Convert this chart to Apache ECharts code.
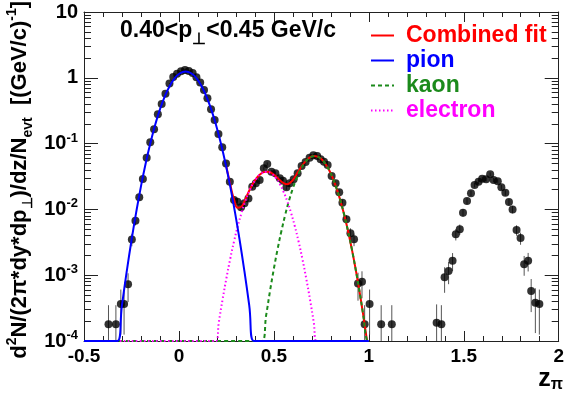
<!DOCTYPE html>
<html>
<head>
<meta charset="utf-8">
<script src="https://cdn.jsdelivr.net/npm/echarts@6/dist/echarts.min.js"></script>
<style>
  html, body { margin: 0; padding: 0; background: #fff; }
  #main { width: 567px; height: 396px; }
</style>
</head>
<body>
<div id="main"></div>
<script>
// ---- measured points (z_pi , yield , error) ----
var zPts = [
  -0.371, -0.332, -0.306, -0.289, -0.268, -0.248, -0.229, -0.209, -0.190, -0.170,
  -0.151, -0.131, -0.111, -0.091, -0.071, -0.050, -0.030, -0.010, 0.011, 0.032,
  0.052, 0.072, 0.092, 0.112, 0.132, 0.150, 0.169, 0.188, 0.208, 0.228,
  0.248, 0.268, 0.290,
  0.308, 0.327, 0.345, 0.366, 0.386, 0.405, 0.425, 0.447, 0.465, 0.487,
  0.508, 0.531, 0.548, 0.566, 0.583, 0.604, 0.625, 0.646, 0.667, 0.688,
  0.708, 0.728, 0.746, 0.764, 0.783, 0.804, 0.825, 0.844, 0.861, 0.882,
  0.903, 0.922, 0.943, 0.964, 0.978, 1.004, 1.065, 1.121,
  1.357, 1.382, 1.399, 1.420, 1.441, 1.458, 1.479, 1.496, 1.517, 1.538,
  1.557, 1.578, 1.597, 1.618, 1.639, 1.657, 1.679, 1.698, 1.719, 1.738,
  1.757, 1.778, 1.799, 1.818, 1.839, 1.855, 1.877, 1.898
];
var yPts = [
  1.8e-4, 1.8e-4, 3.65e-4, 3.65e-4, 7.3e-4, 3.5e-3, 6.7e-3, 0.0153, 0.029, 0.061,
  0.105, 0.165, 0.279, 0.40, 0.573, 0.82, 1.03, 1.15, 1.26, 1.31,
  1.27, 1.18, 1.02, 0.845, 0.653, 0.488, 0.332, 0.229, 0.140, 0.088,
  0.050, 0.0264, 0.0139,
  0.0131, 0.0108, 0.0124, 0.0147, 0.0221, 0.0249, 0.028, 0.0421, 0.049, 0.0374,
  0.0354, 0.0297, 0.0273, 0.0217, 0.0249, 0.0287, 0.0354, 0.0457, 0.0525, 0.061,
  0.0667, 0.065, 0.0577, 0.0531, 0.0473, 0.0322, 0.0249, 0.0182, 0.01265, 0.00708,
  0.00434, 0.00351, 7.5e-4, 7.96e-4, 1.8e-4, 3.65e-4, 1.8e-4, 1.8e-4,
  1.9e-4, 1.8e-4, 9.3e-4, 1.16e-3, 1.66e-3, 4.19e-3, 4.99e-3, 8.9e-3, 0.0134, 0.0176,
  0.0235, 0.0264, 0.0293, 0.0287, 0.0341, 0.028, 0.0267, 0.0217, 0.0179, 0.0129,
  0.010, 4.86e-3, 3.67e-3, 1.47e-3, 1.66e-3, 5.75e-4, 3.82e-4, 3.65e-4
];
var yErr = [
  1.7e-4, 1.7e-4, 2.4e-4, 2.4e-4, 3.4e-4, 7.5e-4, 1.0e-3, 1.6e-3, 2.2e-3, 3.1e-3,
  4.1e-3, 5.1e-3, 6.7e-3, 8.0e-3, 9.6e-3, 0.011, 0.013, 0.014, 0.014, 0.014,
  0.014, 0.014, 0.013, 0.012, 0.010, 0.009, 0.0073, 0.006, 0.0047, 0.0037,
  0.0028, 0.002, 0.0015,
  1.45e-3, 1.3e-3, 1.4e-3, 1.5e-3, 1.9e-3, 2.0e-3, 2.1e-3, 2.6e-3, 2.8e-3, 2.4e-3,
  2.4e-3, 2.2e-3, 2.1e-3, 1.9e-3, 2.0e-3, 2.1e-3, 2.4e-3, 2.7e-3, 2.9e-3, 3.1e-3,
  3.3e-3, 3.2e-3, 3.0e-3, 2.9e-3, 2.8e-3, 2.3e-3, 2.0e-3, 1.7e-3, 1.4e-3, 1.1e-3,
  8.3e-4, 7.5e-4, 3.4e-4, 3.5e-4, 1.7e-4, 2.4e-4, 1.7e-4, 1.7e-4,
  1.7e-4, 1.7e-4, 3.9e-4, 4.3e-4, 5.1e-4, 8.2e-4, 8.9e-4, 1.2e-3, 1.46e-3, 1.7e-3,
  1.9e-3, 2.1e-3, 2.2e-3, 2.1e-3, 2.3e-3, 2.1e-3, 2.1e-3, 1.9e-3, 1.7e-3, 1.45e-3,
  1.3e-3, 8.8e-4, 7.7e-4, 4.9e-4, 5.2e-4, 3.0e-4, 2.5e-4, 2.4e-4
];

// ---- fit curves (1e-4 = drawn on the frame bottom) ----
var pionZ = [-0.5, -0.325, -0.30, -0.275, -0.25, -0.225, -0.20, -0.175, -0.15, -0.125,
  -0.10, -0.075, -0.05, -0.025, 0.0, 0.035, 0.07, 0.095, 0.12, 0.145,
  0.17, 0.195, 0.22, 0.245, 0.27, 0.295, 0.32, 0.345, 0.37, 0.395, 1.0];
var pionY = [1e-4, 1e-4, 3.5e-4, 1.14e-3, 3.37e-3, 9.08e-3, 0.0224, 0.0503, 0.103, 0.194,
  0.331, 0.518, 0.738, 0.962, 1.143, 1.25, 1.143, 0.962, 0.738, 0.518,
  0.331, 0.194, 0.103, 0.0503, 0.0224, 9.08e-3, 3.37e-3, 1.14e-3, 3.5e-4, 1e-4, 1e-4];

var kaonZ = [-0.5, 0.435, 0.46, 0.48, 0.50, 0.52, 0.54, 0.56, 0.58, 0.60,
  0.62, 0.64, 0.66, 0.68, 0.70, 0.715, 0.73, 0.75, 0.77, 0.79,
  0.81, 0.83, 0.85, 0.87, 0.89, 0.91, 0.93, 0.95, 0.97, 0.99, 1.0];
var kaonY = [1e-4, 1e-4, 2.54e-4, 5.85e-4, 1.26e-3, 2.53e-3, 4.75e-3, 8.34e-3, 0.01368, 0.0209,
  0.0299, 0.040, 0.0499, 0.0582, 0.0634, 0.0646, 0.0634, 0.0582, 0.0499, 0.040,
  0.0299, 0.0209, 0.01368, 8.34e-3, 4.75e-3, 2.53e-3, 1.26e-3, 5.85e-4, 2.54e-4, 1.03e-4, 1e-4];

var elecZ = [-0.5, 0.195, 0.21, 0.23, 0.25, 0.27, 0.29, 0.31, 0.33, 0.35,
  0.37, 0.39, 0.41, 0.43, 0.46, 0.49, 0.51, 0.53, 0.55, 0.57,
  0.59, 0.61, 0.63, 0.65, 0.67, 0.69, 0.71, 0.725, 1.0];
var elecY = [1e-4, 1e-4, 1.92e-4, 4.3e-4, 9.0e-4, 1.77e-3, 3.25e-3, 5.58e-3, 8.93e-3, 0.0134,
  0.0188, 0.0246, 0.0301, 0.0344, 0.0372, 0.0344, 0.0301, 0.0246, 0.0188, 0.0134,
  8.93e-3, 5.58e-3, 3.25e-3, 1.77e-3, 9.0e-4, 4.3e-4, 1.92e-4, 1e-4, 1e-4];

var fitZ = [0.25, 0.27, 0.29, 0.31, 0.33, 0.35, 0.37, 0.39, 0.41, 0.43,
  0.45, 0.47, 0.49, 0.51, 0.53, 0.55, 0.57, 0.59, 0.61, 0.63,
  0.65, 0.67, 0.69, 0.71, 0.73, 0.75, 0.77, 0.79, 0.81, 0.83,
  0.85, 0.87, 0.89, 0.91, 0.93, 0.95, 0.97, 0.99];
var fitY = [0.044, 0.0242, 0.0142, 0.0106, 0.0111, 0.0143, 0.0192, 0.0247, 0.0301, 0.0345,
  0.0370, 0.0372, 0.0353, 0.0319, 0.0281, 0.0252, 0.0242, 0.0260, 0.0308, 0.0382,
  0.0469, 0.0552, 0.0616, 0.0647, 0.0634, 0.0582, 0.0499, 0.040, 0.0299, 0.0209,
  0.01368, 8.34e-3, 4.75e-3, 2.53e-3, 1.26e-3, 5.85e-4, 2.54e-4, 1.03e-4];

var yMajor = [1e-4, 1e-3, 1e-2, 1e-1, 1, 10];

var FONT = '"Liberation Sans", Arial, sans-serif';
var RED = '#ff0000', BLUE = '#0000ff', GREEN = '#1b8a1b', PINK = '#ff00ff';

function pairs(xs, ys) {
  return xs.map(function (x, i) { return [x, ys[i]]; });
}

// minor log ticks 2..9 per decade (axis decoration only)
var yMinor = [];
for (var d = 0; d < yMajor.length - 1; d++) {
  for (var m = 2; m <= 9; m++) yMinor.push(+(m * yMajor[d]).toPrecision(3));
}

var chart = echarts.init(document.getElementById('main'));

function xAx(pos, showLabel) {
  return {
    type: 'value', position: pos, min: -0.5, max: 2, interval: 0.5,
    axisLine: { show: true, onZero: false, lineStyle: { color: '#222', width: 1 } },
    axisTick: { show: true, inside: true, length: 10, lineStyle: { color: '#222' } },
    minorTick: { show: true, splitNumber: 5, length: 5, lineStyle: { color: '#222' } },
    splitLine: { show: false },
    axisLabel: {
      show: showLabel, margin: 6, color: '#000', fontFamily: FONT,
      fontWeight: 'bold', fontSize: 19
    }
  };
}

function yAx(pos, minor, showLabel) {
  return {
    type: 'log', logBase: 10, position: pos, min: 1e-4, max: 10,
    axisLine: { show: !minor, onZero: false, lineStyle: { color: '#222', width: 1 } },
    axisTick: {
      show: true, inside: true, length: minor ? 7 : 14,
      customValues: minor ? yMinor : yMajor, lineStyle: { color: '#222' }
    },
    splitLine: { show: false },
    axisLabel: {
      show: showLabel, customValues: yMajor, margin: 6,
      formatter: function (v) {
        var e = Math.round(Math.log10(v));
        if (e === 0) return '{b|1}';
        if (e === 1) return '{b|10}';
        return '{b|10}{e|' + e + '}';
      },
      rich: {
        b: { fontFamily: FONT, fontWeight: 'bold', fontSize: 20, color: '#000', lineHeight: 24 },
        e: { fontFamily: FONT, fontWeight: 'bold', fontSize: 13, color: '#000', lineHeight: 12, verticalAlign: 'top' }
      }
    }
  };
}

var option = {
  animation: false,
  backgroundColor: '#fff',
  grid: { left: 84, right: 4, top: 12, bottom: 55 },
  xAxis: [xAx('bottom', true), xAx('top', false)],
  yAxis: [yAx('left', false, true), yAx('left', true, false), yAx('right', false, false), yAx('right', true, false)],
  legend: {
    orient: 'vertical', left: 370, top: 24, padding: 0,
    itemWidth: 23, itemHeight: 14, itemGap: 2,
    selectedMode: false,
    itemStyle: { opacity: 0 },
    textStyle: { fontFamily: FONT, fontWeight: 'bold', fontSize: 23, lineHeight: 23, padding: [0, 0, 0, 7] },
    data: [
      { name: 'Combined fit', textStyle: { color: RED } },
      { name: 'pion', textStyle: { color: BLUE } },
      { name: 'kaon', textStyle: { color: GREEN } },
      { name: 'electron', textStyle: { color: PINK } }
    ]
  },
  graphic: [
    {
      type: 'text', left: 120, top: 19,
      style: {
        text: '{m|0.40<p}{s|\u22a5}{m|<0.45 GeV/c}',
        rich: {
          m: { fontFamily: FONT, fontWeight: 'bold', fontSize: 23, fill: '#000', lineHeight: 34 },
          s: { fontFamily: FONT, fontWeight: 'bold', fontSize: 16, fill: '#000', lineHeight: 10, verticalAlign: 'bottom' }
        }
      }
    },
    {
      type: 'text', x: 20, y: 1, rotation: Math.PI / 2,
      style: {
        text: '{m|d}{p|2}{m|N/(2\u03c0*dy*dp}{s|\u22a5}{m|)/dz/N}{s|evt}{m|  [(GeV/c)}{p|-1}{m|]}',
        align: 'right', verticalAlign: 'middle',
        rich: {
          m: { fontFamily: FONT, fontWeight: 'bold', fontSize: 22, fill: '#000', lineHeight: 30 },
          p: { fontFamily: FONT, fontWeight: 'bold', fontSize: 14, fill: '#000', lineHeight: 14, verticalAlign: 'top' },
          s: { fontFamily: FONT, fontWeight: 'bold', fontSize: 14, fill: '#000', lineHeight: 12, verticalAlign: 'bottom' }
        }
      }
    },
    {
      type: 'text', right: 4, top: 367,
      style: {
        text: '{m|z}{s|\u03c0}',
        rich: {
          m: { fontFamily: FONT, fontWeight: 'bold', fontSize: 25, fill: '#000', lineHeight: 26 },
          s: { fontFamily: FONT, fontWeight: 'bold', fontSize: 16, fill: '#000', lineHeight: 12, verticalAlign: 'bottom' }
        }
      }
    }
  ],
  series: [
    {
      type: 'custom', name: 'errors', z: 2,
      data: zPts.map(function (z, i) { return [z, yPts[i], yErr[i]]; }),
      encode: { x: 0, y: 1 },
      renderItem: function (params, api) {
        var z = api.value(0), y = api.value(1), e = api.value(2);
        var p1 = api.coord([z, Math.max(y - e, 1e-4)]);
        var p2 = api.coord([z, y + e]);
        return {
          type: 'line',
          shape: { x1: p1[0], y1: p1[1], x2: p2[0], y2: p2[1] },
          style: { stroke: '#555', lineWidth: 1 }
        };
      }
    },
    {
      type: 'scatter', name: 'data', z: 3,
      data: pairs(zPts, yPts), symbol: 'circle', symbolSize: 8,
      itemStyle: { color: '#000' }
    },
    {
      type: 'line', name: 'Combined fit', z: 4, data: pairs(fitZ, fitY),
      smooth: true, symbol: 'none', lineStyle: { color: RED, width: 2 }, itemStyle: { color: RED }
    },
    {
      type: 'line', name: 'kaon', z: 5, data: pairs(kaonZ, kaonY),
      smooth: true, symbol: 'none', lineStyle: { color: GREEN, width: 2, type: [4, 3] }, itemStyle: { color: GREEN }
    },
    {
      type: 'line', name: 'electron', z: 6, data: pairs(elecZ, elecY),
      smooth: true, symbol: 'none', lineStyle: { color: PINK, width: 2, type: [1.5, 2.5] }, itemStyle: { color: PINK }
    },
    {
      type: 'line', name: 'pion', z: 7, data: pairs(pionZ, pionY),
      smooth: true, symbol: 'none', lineStyle: { color: BLUE, width: 2 }, itemStyle: { color: BLUE }
    }
  ]
};

chart.setOption(option);
</script>
</body>
</html>
